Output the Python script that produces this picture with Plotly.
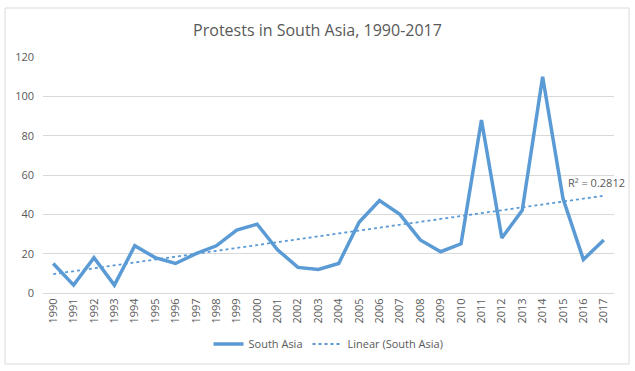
import numpy as np
import plotly.graph_objects as go

years = list(range(1990, 2018))
protests = [15, 4, 18, 4, 24, 18, 15, 20, 24, 32, 35, 22, 13, 12, 15, 36, 47, 40, 27, 21, 25, 88, 28, 42, 110, 48, 17, 27]
tick_labels = [str(y) for y in years]
r2_label = "R² = 0.2812"

# linear trendline fitted to the series
coef = np.polyfit(years, protests, 1)
trend = np.polyval(coef, years)

W, H = 635, 371
ml, mr, mt, mb = 43, 21, 57, 78
pw, ph = W - ml - mr, H - mt - mb

def px(x):
    return (x - ml) / pw

def py(y):
    return 1 - (y - mt) / ph

grey = "#595959"
blue = "#5B9BD5"
font = "Open Sans"

fig = go.Figure()
fig.add_trace(go.Scatter(x=years, y=protests, mode="lines", name="South Asia",
                         line=dict(color=blue, width=3.5)))
fig.add_trace(go.Scatter(x=years, y=trend, mode="lines", name="Linear (South Asia)",
                         line=dict(color=blue, width=1.8, dash="dot")))

fig.update_layout(
    width=W, height=H,
    margin=dict(l=ml, r=mr, t=mt, b=mb, autoexpand=False),
    paper_bgcolor="white", plot_bgcolor="white",
    font=dict(family=font, color=grey, size=11),
    title=dict(text="Protests in South Asia, 1990-2017", x=0.5, xanchor="center",
               y=1 - 30 / H, yanchor="middle",
               font=dict(family=font, size=16, color=grey)),
    showlegend=True,
    legend=dict(orientation="h", x=0.5, xanchor="center", yref="container",
                y=1 - 344 / H, yanchor="middle",
                font=dict(family=font, size=11, color=grey), bgcolor="rgba(0,0,0,0)"),
    xaxis=dict(range=[1989.5, 2017.5], tickmode="array", tickvals=years, ticktext=tick_labels,
               tickangle=-90, showgrid=False, zeroline=False, showline=True, automargin=False,
               linecolor="#D9D9D9", linewidth=1, ticks="", tickfont=dict(size=11, color=grey)),
    yaxis=dict(range=[0, 120], dtick=20, showgrid=True, gridcolor="#D9D9D9", gridwidth=1,
               zeroline=False, showline=False, ticks="", automargin=False,
               tickfont=dict(size=11, color=grey), ticklabelstandoff=8),
    shapes=[dict(type="rect", xref="paper", yref="paper",
                 x0=px(5), x1=px(629), y0=py(364), y1=py(8),
                 line=dict(color="#D9D9D9", width=1), fillcolor="rgba(0,0,0,0)", layer="below")],
    annotations=[dict(text=r2_label, xref="paper", yref="paper", x=px(596), y=py(182),
                      xanchor="center", yanchor="middle", showarrow=False,
                      font=dict(family=font, size=11, color=grey))],
)

fig.write_html("out.html", config={"displayModeBar": False},
               post_script="document.body.style.margin='0';document.body.style.padding='0';")
